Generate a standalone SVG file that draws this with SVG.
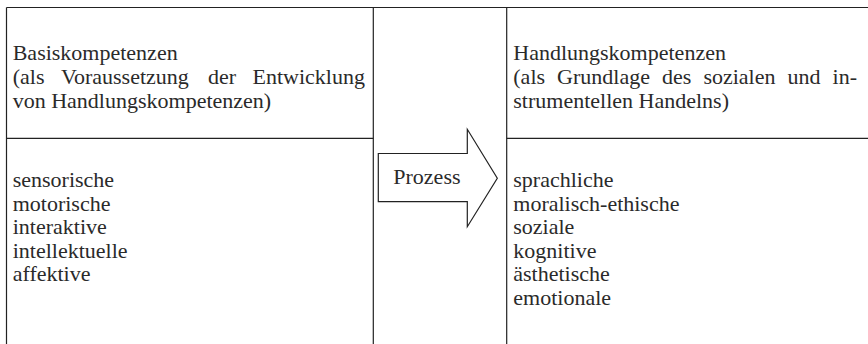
<svg xmlns="http://www.w3.org/2000/svg" width="868" height="344" viewBox="0 0 868 344">
<style>
text{font-family:'Liberation Serif','DejaVu Serif',serif;font-size:22px;fill:#2a2a2a}
.ln{stroke:#222;stroke-width:1.2;fill:none}
</style>
<rect width="868" height="344" fill="#fff"/>
<g id="grid">
<line class="ln" x1="6.5" y1="7.5" x2="868" y2="7.5"/>
<line class="ln" x1="6.5" y1="7.5" x2="6.5" y2="344"/>
<line class="ln" x1="373.3" y1="7.5" x2="373.3" y2="344"/>
<line class="ln" x1="506.7" y1="7.5" x2="506.7" y2="344"/>
<line class="ln" x1="6.5" y1="138.3" x2="373.3" y2="138.3"/>
<line class="ln" x1="506.7" y1="138.3" x2="868" y2="138.3"/>
</g>
<g id="basis-head">
<text x="12.7" y="60">Basiskompetenzen</text>
<text y="84"><tspan x="12.7">(als</tspan><tspan x="60.9">Voraussetzung</tspan><tspan x="208">der</tspan><tspan x="252.5">Entwicklung</tspan></text>
<text x="12.7" y="108">von Handlungskompetenzen)</text>
</g>
<g id="basis-list">
<text x="12.7" y="187">sensorische</text>
<text x="12.7" y="210.5">motorische</text>
<text x="12.7" y="234">interaktive</text>
<text x="12.7" y="257.5">intellektuelle</text>
<text x="12.7" y="281">affektive</text>
</g>
<g id="prozess">
<polygon class="ln" points="378.3,153.5 467.3,153.5 467.3,129.3 497.3,178.3 467.3,226.7 467.3,201.7 378.3,201.7"/>
<text x="393.3" y="184">Prozess</text>
</g>
<g id="handlung-head">
<text x="513.3" y="60">Handlungskompetenzen</text>
<text y="84"><tspan x="513.3">(als</tspan><tspan x="557.1">Grundlage</tspan><tspan x="662.1">des</tspan><tspan x="703.4">sozialen</tspan><tspan x="787.5">und</tspan><tspan x="832.6">in-</tspan></text>
<text x="513.3" y="108">strumentellen Handelns)</text>
</g>
<g id="handlung-list">
<text x="513.3" y="187">sprachliche</text>
<text x="513.3" y="210.5">moralisch-ethische</text>
<text x="513.3" y="234">soziale</text>
<text x="513.3" y="257.5">kognitive</text>
<text x="513.3" y="281">ästhetische</text>
<text x="513.3" y="304.5">emotionale</text>
</g>
</svg>
